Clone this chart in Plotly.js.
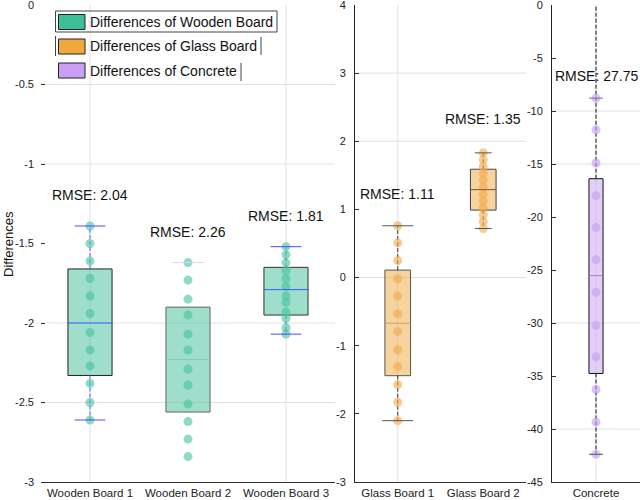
<!DOCTYPE html>
<html>
<head>
<meta charset="utf-8">
<script src="https://cdn.plot.ly/plotly-3.0.1.min.js"></script>
<style>
html, body { margin: 0; padding: 0; background: #fff; }
#chart { width: 640px; height: 500px; }
</style>
</head>
<body>
<div id="chart"></div>
<script>
// categories
const woodCats = ['Wooden Board 1', 'Wooden Board 2', 'Wooden Board 3'];
const glassCats = ['Glass Board 1', 'Glass Board 2'];
const concreteCats = ['Concrete'];

// differences (points)
const woodBoard1 = [-1.39, -1.50, -1.61, -1.72, -1.83, -1.94, -2.06, -2.17, -2.27, -2.38, -2.50, -2.61];
const woodBoard2 = [-1.62, -1.73, -1.85, -1.95, -2.07, -2.17, -2.29, -2.39, -2.51, -2.62, -2.73, -2.84];
const woodBoard3 = [-1.52, -1.57, -1.62, -1.67, -1.72, -1.77, -1.83, -1.87, -1.93, -1.97, -2.03, -2.07];
const glassBoard1 = [0.76, 0.51, 0.25, -0.02, -0.27, -0.53, -0.79, -1.06, -1.31, -1.57, -1.83, -2.10];
const glassBoard2 = [1.83, 1.73, 1.63, 1.53, 1.43, 1.33, 1.22, 1.12, 1.02, 0.92, 0.82, 0.72];
const concrete = [-8.79, -11.78, -14.91, -17.99, -20.98, -24.02, -27.10, -30.21, -33.19, -36.27, -39.35, -42.39];

// box statistics
const woodQ1 = [-2.33, -2.56, -1.95];
const woodMedian = [-2.00, -2.23, -1.79];
const woodQ3 = [-1.66, -1.90, -1.65];
const woodLow = [-2.61, -2.84, -2.07];
const woodHigh = [-1.39, -1.62, -1.52];

const glassQ1 = [-1.44, 0.99];
const glassMedian = [-0.67, 1.29];
const glassQ3 = [0.11, 1.59];
const glassLow = [-2.10, 0.72];
const glassHigh = [0.76, 1.83];

const concreteQ1 = [-34.76];
const concreteMedian = [-25.53];
const concreteQ3 = [-16.39];
const concreteLow = [-42.39];
const concreteHigh = [-8.79];
const concreteWhiskerTop = [0];

const rmseWood = [2.04, 2.26, 1.81];
const rmseGlass = [1.11, 1.35];
const rmseConcrete = [27.75];

// tick values
const woodTicks = [0, -0.5, -1, -1.5, -2, -2.5, -3];
const glassTicks = [4, 3, 2, 1, 0, -1, -2, -3];
const concreteTicks = [0, -5, -10, -15, -20, -25, -30, -35, -40, -45];

const FONT = 'Liberation Sans, Arial, sans-serif';
const traces = [];
const annotations = [];

function boxGroup(o) {
    const p = o.pos;
    const l = p - o.boxWidth / 2, r = p + o.boxWidth / 2;
    // box body (fill only)
    traces.push({
        type: 'box', x: [p], q1: [o.q1], median: [o.med], q3: [o.q3],
        lowerfence: [o.q1], upperfence: [o.q3], width: o.boxWidth, whiskerwidth: 0,
        fillcolor: o.fill, line: { color: 'rgba(0,0,0,0)', width: 0 },
        boxpoints: false, xaxis: o.xa, yaxis: o.ya, showlegend: false, hoverinfo: 'skip'
    });
    // box outline
    traces.push({
        type: 'scatter', mode: 'lines', x: [l, r, r, l, l], y: [o.q1, o.q1, o.q3, o.q3, o.q1],
        line: { color: o.lineColor, width: 1 },
        xaxis: o.xa, yaxis: o.ya, showlegend: false, hoverinfo: 'skip'
    });
    // whiskers
    traces.push({
        type: 'scatter', mode: 'lines', x: [p, p, null, p, p],
        y: [o.q3, o.top, null, o.q1, o.lo],
        line: { color: o.whiskColor, width: 1, dash: '4px,2px' },
        xaxis: o.xa, yaxis: o.ya, showlegend: false, hoverinfo: 'skip'
    });
    // points
    traces.push({
        type: 'scatter', mode: 'markers', x: o.pts.map(() => p), y: o.pts,
        marker: { size: 9, color: o.dotColor, line: { width: 0 } },
        xaxis: o.xa, yaxis: o.ya, showlegend: false, hoverinfo: 'y'
    });
    // median
    traces.push({
        type: 'scatter', mode: 'lines', x: [l, r],
        y: [o.med, o.med], line: { color: o.medColor, width: 1 },
        xaxis: o.xa, yaxis: o.ya, showlegend: false, hoverinfo: 'skip'
    });
    // caps
    traces.push({
        type: 'scatter', mode: 'markers', x: [p, p], y: [o.hi, o.lo],
        marker: { symbol: 'line-ew', size: o.capSize, line: { color: o.capColors, width: 1 } },
        xaxis: o.xa, yaxis: o.ya, showlegend: false, hoverinfo: 'skip'
    });
    annotations.push({
        xref: o.xa, yref: o.ya, x: p, y: o.hi, yshift: o.labelShift,
        text: 'RMSE: ' + o.rmse.toFixed(2), showarrow: false,
        font: { family: FONT, size: 14, color: '#111' }
    });
}

const woodPts = [woodBoard1, woodBoard2, woodBoard3];
const woodStyle = [
    { lineColor: '#222', medColor: '#3a5cff', whiskColor: '#5a5aff', capColors: ['#4a4aff', '#4a4aff'] },
    { lineColor: '#666', medColor: 'rgba(120,190,170,0.7)', whiskColor: 'rgba(0,0,0,0)', capColors: ['#d4d4f0', 'rgba(0,0,0,0)'] },
    { lineColor: '#333', medColor: '#3a5cff', whiskColor: '#5a5aff', capColors: ['#4a4aff', '#4a4aff'] }
];
woodCats.forEach((c, i) => {
    boxGroup(Object.assign({
        xa: 'x', ya: 'y', pos: i + 1, pts: woodPts[i],
        q1: woodQ1[i], med: woodMedian[i], q3: woodQ3[i], lo: woodLow[i], hi: woodHigh[i], top: woodHigh[i],
        boxWidth: 0.45, capSize: 22, fill: 'rgba(62,189,150,0.5)', dotColor: 'rgba(70,195,155,0.6)',
        rmse: rmseWood[i], labelShift: 31
    }, woodStyle[i]));
});

const glassPts = [glassBoard1, glassBoard2];
const glassStyle = [
    { lineColor: '#555', medColor: 'rgba(200,150,80,0.8)', whiskColor: '#333', capColors: ['#555', '#555'], capSize: 22, labelShift: 32 },
    { lineColor: '#444', medColor: '#7a5a30', whiskColor: '#333', capColors: ['#555', '#555'], capSize: 12, labelShift: 34 }
];
glassCats.forEach((c, i) => {
    boxGroup(Object.assign({
        xa: 'x2', ya: 'y2', pos: i + 1, pts: glassPts[i],
        q1: glassQ1[i], med: glassMedian[i], q3: glassQ3[i], lo: glassLow[i], hi: glassHigh[i], top: glassHigh[i],
        boxWidth: 0.30, fill: 'rgba(240,168,64,0.5)', dotColor: 'rgba(242,170,70,0.6)',
        rmse: rmseGlass[i]
    }, glassStyle[i]));
});

boxGroup({
    xa: 'x3', ya: 'y3', pos: 1, pts: concrete,
    q1: concreteQ1[0], med: concreteMedian[0], q3: concreteQ3[0], lo: concreteLow[0], hi: concreteHigh[0],
    top: concreteWhiskerTop[0], boxWidth: 0.16, capSize: 10,
    fill: 'rgba(200,160,245,0.5)', dotColor: 'rgba(200,160,245,0.65)',
    lineColor: '#111', medColor: 'rgba(150,120,170,0.8)', whiskColor: '#111', capColors: ['#777', '#555'],
    rmse: rmseConcrete[0], labelShift: 22
});

// grid lines
const shapes = [];
function hGrid(xa, ya, vals) {
    vals.forEach(v => shapes.push({ type: 'line', layer: 'below', xref: xa + ' domain', yref: ya,
        x0: 0, x1: 1, y0: v, y1: v, line: { color: '#e2e2e2', width: 1 } }));
}
function vGrid(xa, ya, vals) {
    vals.forEach(v => shapes.push({ type: 'line', layer: 'below', xref: xa, yref: ya + ' domain',
        x0: v, x1: v, y0: 0, y1: 1, line: { color: '#e2e2e2', width: 1 } }));
}
hGrid('x', 'y', [-0.5, -1, -2, -2.5]);
vGrid('x', 'y', [1, 3]);
hGrid('x2', 'y2', [3, 2, 0]);
vGrid('x2', 'y2', [1]);
hGrid('x3', 'y3', [-10, -15, -30, -40]);
vGrid('x3', 'y3', [1]);

// legend drawn by hand (MATLAB-like)
const W = 640, H = 500;
function px(x) { return x / W; }
function py(y) { return (H - y) / H; }
const legendItems = [
    { text: 'Differences of Wooden Board', color: '#3dbf98', y: 22 },
    { text: 'Differences of Glass Board', color: '#f0a83e', y: 46.5 },
    { text: 'Differences of Concrete', color: '#c9a0f6', y: 70.5 }
];
legendItems.forEach(it => {
    shapes.push({ type: 'rect', xref: 'paper', yref: 'paper', x0: px(58.5), x1: px(85),
        y0: py(it.y - 7.5), y1: py(it.y + 7.5), fillcolor: it.color, line: { color: '#222', width: 1 } });
    annotations.push({ xref: 'paper', yref: 'paper', x: px(88), y: py(it.y), xanchor: 'left', yanchor: 'middle',
        text: it.text, showarrow: false, font: { family: FONT, size: 14, color: '#111' } });
});
shapes.push({ type: 'rect', xref: 'paper', yref: 'paper', x0: px(55.5), x1: px(277), y0: py(32), y1: py(11),
    line: { color: '#444', width: 1 } });
shapes.push({ type: 'line', xref: 'paper', yref: 'paper', x0: px(55.5), x1: px(55.5), y0: py(56), y1: py(36),
    line: { color: '#444', width: 1 } });
shapes.push({ type: 'line', xref: 'paper', yref: 'paper', x0: px(261), x1: px(261), y0: py(55), y1: py(37),
    line: { color: '#444', width: 1 } });
shapes.push({ type: 'line', xref: 'paper', yref: 'paper', x0: px(241), x1: px(241), y0: py(81), y1: py(63),
    line: { color: '#444', width: 1 } });

annotations.push({ xref: 'paper', yref: 'paper', x: px(8), y: py(244), xanchor: 'center', yanchor: 'middle',
    textangle: -90, text: 'Differences', showarrow: false, font: { family: FONT, size: 13, color: '#111' } });

const yDomain = [18 / H, 495 / H];
function xAxis(domain, range, cats) {
    return {
        domain: domain, range: range, tickvals: cats.map((c, i) => i + 1), ticktext: cats,
        ticks: '', showgrid: false, zeroline: false, showline: true, linecolor: '#333', linewidth: 1,
        tickfont: { family: FONT, size: 11.5, color: '#222' }, automargin: false, fixedrange: true,
        ticklabeloverflow: 'allow'
    };
}
function yAxis(anchor, range, ticks, showline) {
    return {
        anchor: anchor, domain: yDomain, range: range, tickvals: ticks, ticktext: ticks.map(String),
        ticks: 'inside', ticklen: 4, tickcolor: '#333', ticklabelstandoff: 6,
        showgrid: false, zeroline: false, showline: showline, linecolor: '#222', linewidth: 1,
        tickfont: { family: FONT, size: 11, color: '#222' }, automargin: false, fixedrange: true,
        ticklabeloverflow: 'allow'
    };
}

const layout = {
    width: W, height: H,
    margin: { l: 0, r: 0, t: 0, b: 0 },
    paper_bgcolor: '#fff', plot_bgcolor: 'rgba(0,0,0,0)',
    showlegend: false,
    xaxis: Object.assign(xAxis([41 / W, 335 / W], [0.5, 3.5], woodCats), { anchor: 'y' }),
    yaxis: yAxis('x', [-3, 0], woodTicks, false),
    xaxis2: Object.assign(xAxis([355 / W, 526 / W], [0.5, 2.5], glassCats), { anchor: 'y2' }),
    yaxis2: yAxis('x2', [-3, 4], glassTicks, true),
    xaxis3: Object.assign(xAxis([552 / W, 1], [0.5, 1.5], concreteCats), { anchor: 'y3' }),
    yaxis3: yAxis('x3', [-45, 0], concreteTicks, true),
    shapes: shapes,
    annotations: annotations
};

Plotly.newPlot('chart', traces, layout, { displayModeBar: false, staticPlot: true });
</script>
</body>
</html>
